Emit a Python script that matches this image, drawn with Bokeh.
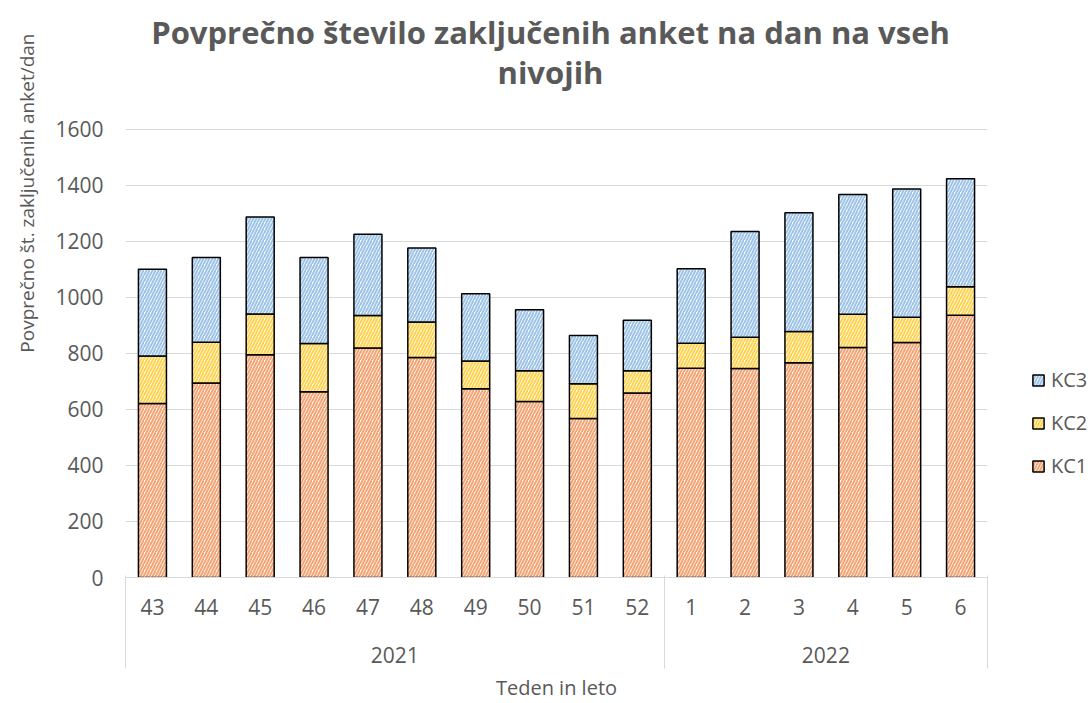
from bokeh.plotting import figure
from bokeh.layouts import row
from bokeh.models import (ColumnDataSource, Range1d, Legend, LegendItem, Title, Label,
                          FixedTicker, LinearAxis)
from bokeh.embed import file_html
from bokeh.resources import INLINE

# ---- data ----
years = ["2021"] * 10 + ["2022"] * 6
weeks = ["43", "44", "45", "46", "47", "48", "49", "50", "51", "52",
         "1", "2", "3", "4", "5", "6"]
kc1 = [621, 694, 795, 663, 819, 785, 674, 628, 568, 659, 747, 746, 767, 821, 839, 936]
kc2 = [170, 146, 146, 172, 116, 127, 99, 110, 124, 79, 89, 112, 111, 119, 90, 102]
kc3 = [309, 302, 346, 307, 290, 264, 240, 218, 172, 180, 266, 377, 424, 427, 458, 385]
series = ["KC1", "KC2", "KC3"]
colors = ["#F4A372", "#FFD34F", "#9DC3E6"]
y_ticks = [0, 200, 400, 600, 800, 1000, 1200, 1400, 1600]

title_line1 = "Povprečno število zaključenih anket na dan na vseh"
title_line2 = "nivojih"
y_title = "Povprečno št. zaključenih anket/dan"
x_title = "Teden in leto"

FONT = "Open Sans"
GREY = "#595959"
GRID = "#d9d9d9"

# ---- layout geometry (pixels) ----
W_MAIN, W_LEG, H = 988, 102, 703
BOTTOM = 125            # space below the plotting area for the two label rows
PLOT_TOP = 129          # where the 1600 gridline sits
frame_h = H - BOTTOM
y_end = y_ticks[-1] * frame_h / (frame_h - PLOT_TOP)   # room for the title inside the frame

n = len(weeks)
x_pos = [k + 0.5 for k in range(n)]               # category slots on a numeric scale
week_labels = {xp: w for xp, w in zip(x_pos, weeks)}
# group (year) centres and boundaries, derived from the year list
centers, bounds, year_labels = [], [0], {}
i = 0
while i < n:
    j = i
    while j < n and years[j] == years[i]:
        j += 1
    c = (i + j) / 2
    centers.append(c)
    year_labels[c] = years[i]
    bounds.append(j)
    i = j

source = ColumnDataSource(dict(x=x_pos, KC1=kc1, KC2=kc2, KC3=kc3))

bar_style = dict(fill_color="white", hatch_pattern="/", hatch_scale=6, hatch_weight=2,
                 line_color="black", line_width=1.5)

p = figure(x_range=Range1d(0, n), y_range=(0, y_end), width=W_MAIN, height=H, title=None,
           output_backend="svg", toolbar_location=None,
           min_border_left=125, min_border_right=1, min_border_top=0,
           min_border_bottom=BOTTOM)
p.outline_line_color = None
p.background_fill_color = "white"

renderers = p.vbar_stack(series, x="x", width=0.52, source=source,
                         hatch_color=colors, **bar_style)

# chart title (inside the frame, above the gridded area)
for txt, yc in ((title_line1, 32), (title_line2, 72)):
    p.add_layout(Label(x=425, y=frame_h - yc, x_units="screen", y_units="screen",
                       text=txt, text_align="center", text_baseline="middle",
                       text_font=FONT, text_font_size="31px", text_font_style="bold",
                       text_color=GREY))

# y axis
ya = p.yaxis[0]
ya.ticker = FixedTicker(ticks=y_ticks)
ya.axis_line_color = None
ya.major_tick_line_color = None
ya.minor_tick_line_color = None
ya.major_tick_out = 0
ya.major_label_standoff = 22
ya.major_label_text_font = FONT
ya.major_label_text_font_size = "21px"
ya.major_label_text_color = GREY
p.ygrid.grid_line_color = GRID
p.ygrid.grid_line_width = 1
p.xgrid.grid_line_color = None

# y title as a side title anchored near the top
p.add_layout(Title(text=y_title, align="right", vertical_align="middle", text_font=FONT,
                   text_font_size="19px", text_font_style="normal", text_color=GREY,
                   standoff=23, offset=33), "left")

# x axis: weeks
xa = p.xaxis[0]
xa.ticker = FixedTicker(ticks=x_pos)
xa.major_label_overrides = week_labels
xa.axis_line_color = GRID
xa.axis_line_width = 1
xa.major_tick_line_color = None
xa.minor_tick_line_color = None
xa.major_tick_out = 0
xa.major_label_standoff = 21
xa.major_label_text_font = FONT
xa.major_label_text_font_size = "21px"
xa.major_label_text_color = GREY

# x axis: years
yr_axis = LinearAxis(ticker=FixedTicker(ticks=centers),
                     major_label_overrides=year_labels, axis_line_color=None,
                     major_tick_line_color=None, minor_tick_line_color=None,
                     major_tick_in=0, major_tick_out=0, major_label_standoff=29,
                     major_label_text_font=FONT, major_label_text_font_size="21px",
                     major_label_text_color=GREY)
p.add_layout(yr_axis, "below")

# x axis: group separators + axis title
sep = LinearAxis(ticker=FixedTicker(ticks=bounds),
                 major_label_overrides={b: "" for b in bounds}, axis_line_color=None,
                 major_tick_line_color=GRID, major_tick_line_width=1,
                 minor_tick_line_color=None, major_tick_in=90, major_tick_out=3,
                 major_label_standoff=0, major_label_text_font_size="0px",
                 axis_label=x_title, axis_label_standoff=5, axis_label_text_font=FONT,
                 axis_label_text_font_size="20px", axis_label_text_font_style="normal",
                 axis_label_text_color=GREY)
p.add_layout(sep, "below")

# legend in a narrow companion figure on the right
lf = figure(width=W_LEG, height=H, x_range=(0, 1), y_range=(0, 1), title=None,
            output_backend="svg", toolbar_location=None, min_border=0,
            x_axis_location=None, y_axis_location=None)
lf.outline_line_color = None
lf.grid.visible = False
nan = float("nan")
proxies = [lf.vbar(x=[nan], top=[nan], width=0.5, hatch_color=c, **bar_style)
           for c in colors]
items = [LegendItem(label=s, renderers=[r]) for s, r in zip(series, proxies)][::-1]
legend = Legend(items=items, location=(43, 98), orientation="vertical",
                border_line_color=None, background_fill_alpha=0, padding=0, margin=0,
                spacing=16, glyph_width=14, glyph_height=14, label_height=14,
                label_standoff=6, label_text_font=FONT, label_text_font_size="20px",
                label_text_color=GREY, label_text_baseline="middle")
lf.add_layout(legend)

layout = row(p, lf, spacing=0)
open("out.html", "w").write(file_html(layout, INLINE))
